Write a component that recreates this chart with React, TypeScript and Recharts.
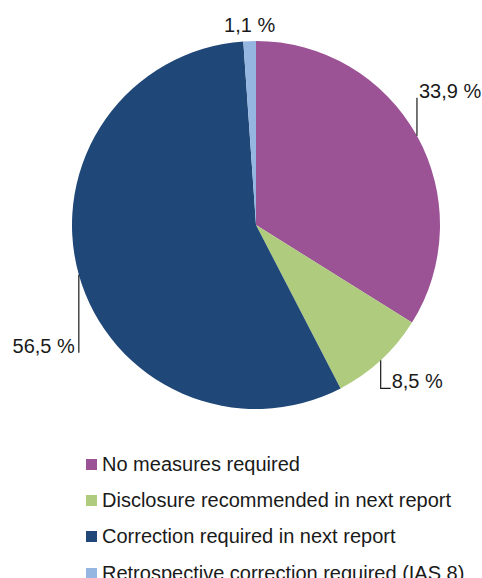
import React from 'react'
import { PieChart, Pie, Cell, Legend } from 'recharts'

const categories = [
  'No measures required',
  'Disclosure recommended in next report',
  'Correction required in next report',
  'Retrospective correction required (IAS 8)',
]
const shares = [33.9, 8.5, 56.5, 1.1]
const shareLabels = ['33,9 %', '8,5 %', '56,5 %', '1,1 %']
const colors = ['#9b5396', '#afcb7d', '#1f4778', '#94b6e1']
// how each label's leader line is drawn
const leaders = ['up-right', 'down-right', 'down-left', 'none']

const data = categories.map((name, i) => ({ name, value: shares[i] }))

const RAD = Math.PI / 180
const FONT = '"Liberation Sans", Arial, Helvetica, sans-serif'

const renderLabel = (props: any) => {
  const { cx, cy, midAngle, outerRadius, index } = props
  const px = cx + outerRadius * Math.cos(-midAngle * RAD)
  const py = cy + outerRadius * Math.sin(-midAngle * RAD)
  const text = shareLabels[index]
  const common = { fontSize: 20, fill: '#1a1a1a', fontFamily: FONT }
  const kind = leaders[index]
  if (kind === 'up-right') {
    return (
      <g key={index}>
        <path d={`M${px},${py}V${py - 38}`} stroke="#1a1a1a" strokeWidth={1.2} fill="none" />
        <text x={px + 2} y={py - 38} textAnchor="start" {...common}>{text}</text>
      </g>
    )
  }
  if (kind === 'down-right') {
    return (
      <g key={index}>
        <path d={`M${px},${py}V${py + 28}H${px + 10}`} stroke="#1a1a1a" strokeWidth={1.2} fill="none" />
        <text x={px + 11} y={py + 28} textAnchor="start" {...common}>{text}</text>
      </g>
    )
  }
  if (kind === 'down-left') {
    return (
      <g key={index}>
        <path d={`M${px},${py}V${py + 78}`} stroke="#1a1a1a" strokeWidth={1.2} fill="none" />
        <text x={px - 4} y={py + 78} textAnchor="end" {...common}>{text}</text>
      </g>
    )
  }
  return (
    <text key={index} x={px} y={py - 9} textAnchor="middle" {...common}>{text}</text>
  )
}

const renderLegend = () => (
  <div style={{ fontFamily: FONT, fontSize: 20, color: '#1a1a1a' }}>
    {categories.map((name, i) => (
      <div key={i} style={{ display: 'flex', alignItems: 'center', height: 36.3 }}>
        <span style={{ width: 11, height: 11, background: colors[i], marginRight: 5, display: 'inline-block', flexShrink: 0 }} />
        <span style={{ whiteSpace: 'nowrap' }}>{name}</span>
      </div>
    ))}
  </div>
)

export default function App() {
  return (
    <div style={{ position: 'absolute', left: 0, top: 0, background: '#fff' }}>
      <PieChart width={482} height={578} margin={{ top: 0, right: 0, bottom: 0, left: 0 }}>
        <Pie
          data={data}
          dataKey="value"
          nameKey="name"
          cx={256}
          cy={225}
          outerRadius={184}
          startAngle={90}
          endAngle={-270}
          stroke="none"
          label={renderLabel}
          labelLine={false}
          isAnimationActive={false}
        >
          {data.map((_, i) => (
            <Cell key={i} fill={colors[i]} />
          ))}
        </Pie>
        <Legend
          content={renderLegend}
          wrapperStyle={{ position: 'absolute', left: 86, top: 446, width: 396 }}
        />
      </PieChart>
    </div>
  )
}
